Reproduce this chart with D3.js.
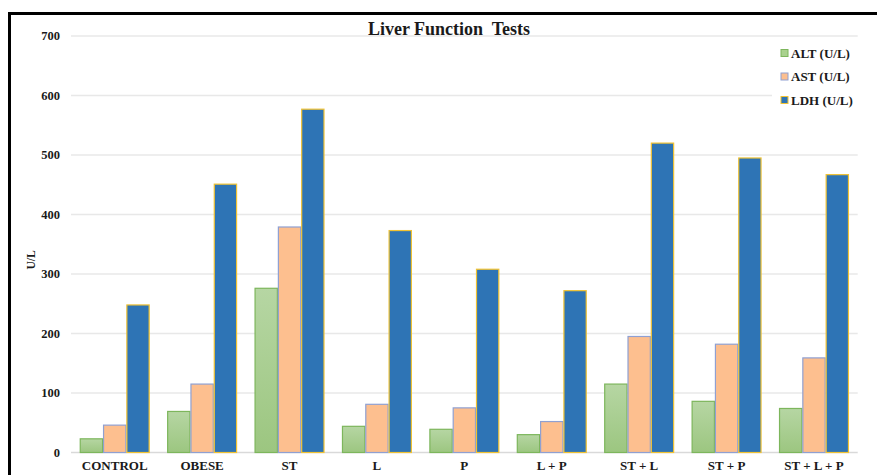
<!DOCTYPE html>
<html>
<head>
<meta charset="utf-8">
<script src="https://cdn.jsdelivr.net/npm/d3@7"></script>
<style>
  html, body { margin: 0; padding: 0; background: #fff; }
  svg { display: block; }
  text { font-family: "Liberation Serif", "Times New Roman", serif; font-weight: bold; fill: #1a1a1a; }
</style>
</head>
<body>
<svg id="chart" width="877" height="475"></svg>
<script>
const categories = ["CONTROL", "OBESE", "ST", "L", "P", "L + P", "ST + L", "ST + P", "ST + L + P"];
const seriesNames = ["ALT (U/L)", "AST (U/L)", "LDH (U/L)"];
const altValues = [23, 69, 276, 44, 39, 30, 115, 86, 74];
const astValues = [46, 115, 379, 81, 75, 52, 195, 182, 159];
const ldhValues = [248, 451, 577, 373, 308, 272, 520, 495, 467];
const yTicks = [0, 100, 200, 300, 400, 500, 600, 700];
const titleText = "Liver Function  Tests";
const yTitle = "U/L";

const seriesValues = [altValues, astValues, ldhValues];
const fills = ["url(#gGreen)", "#fdbf8f", "#2e74b5"];
const strokes = ["#7db65c", "#8fa0d2", "#f0c233"];
const legendFills = ["#a9d18e", "#fdbf8f", "#2e74b5"];

const svg = d3.select("#chart");
const defs = svg.append("defs");
const lg = defs.append("linearGradient").attr("id", "gGreen").attr("x1", 0).attr("y1", 0).attr("x2", 0).attr("y2", 1);
lg.append("stop").attr("offset", "0%").attr("stop-color", "#b6d6a3");
lg.append("stop").attr("offset", "100%").attr("stop-color", "#9cc680");

const plotLeft = 71, plotRight = 857.7, plotTop = 36, plotBottom = 452.5;

const x0 = d3.scaleBand().domain(categories).range([plotLeft, plotRight]).paddingInner(0.2).paddingOuter(0.1);
const x1 = d3.scaleBand().domain(d3.range(3)).range([0, x0.bandwidth()]).padding(0);
const y = d3.scaleLinear().domain([0, 700]).range([plotBottom, plotTop]);

// gridlines
svg.append("g").selectAll("line").data(yTicks).join("line")
  .attr("x1", plotLeft).attr("x2", plotRight)
  .attr("y1", d => y(d)).attr("y2", d => y(d))
  .attr("stroke", d => d === 0 ? "#d9d9d9" : "#e8e8e8")
  .attr("stroke-width", 1.5);

// y tick labels
svg.append("g").selectAll("text").data(yTicks).join("text")
  .attr("x", 60).attr("y", d => y(d)).attr("dy", "0.35em")
  .attr("text-anchor", "end").attr("font-size", 12.5)
  .text(d => d);

// bars
const groups = svg.append("g").selectAll("g").data(categories).join("g")
  .attr("transform", c => `translate(${x0(c)},0)`);
groups.selectAll("rect").data((c, i) => seriesValues.map((s, k) => ({k, v: s[i]}))).join("rect")
  .attr("x", d => x1(d.k) + 0.5)
  .attr("width", x1.bandwidth() - 1)
  .attr("y", d => y(d.v))
  .attr("height", d => y(0) - y(d.v))
  .attr("fill", d => fills[d.k])
  .attr("stroke", d => strokes[d.k])
  .attr("stroke-width", 1.2);

// x labels
svg.append("g").selectAll("text").data(categories).join("text")
  .attr("x", c => x0(c) + x0.bandwidth() / 2)
  .attr("y", 470)
  .attr("text-anchor", "middle").attr("font-size", 13)
  .text(c => c);

// y title
svg.append("text")
  .attr("transform", "translate(35,260) rotate(-90)")
  .attr("text-anchor", "middle").attr("font-size", 11.5)
  .text(yTitle);

// title
svg.append("text")
  .attr("x", 449).attr("y", 35)
  .attr("text-anchor", "middle").attr("font-size", 18)
  .style("white-space", "pre")
  .text(titleText);

// legend
svg.append("rect").attr("x", 772).attr("y", 42).attr("width", 86).attr("height", 68).attr("fill", "#fff");
const leg = svg.append("g").selectAll("g").data(seriesNames).join("g")
  .attr("transform", (d, i) => `translate(781,${53 + i * 23.5})`);
leg.append("rect").attr("x", 0).attr("y", -3.5).attr("width", 7).attr("height", 7)
  .attr("fill", (d, i) => legendFills[i]).attr("stroke", (d, i) => strokes[i]).attr("stroke-width", 1);
leg.append("text").attr("x", 10).attr("y", 0).attr("dy", "0.35em").attr("font-size", 13).text(d => d);

// frame
svg.append("path").attr("d", "M9.5,480 V13.5 H880").attr("fill", "none").attr("stroke", "#000").attr("stroke-width", 3);
</script>
</body>
</html>
